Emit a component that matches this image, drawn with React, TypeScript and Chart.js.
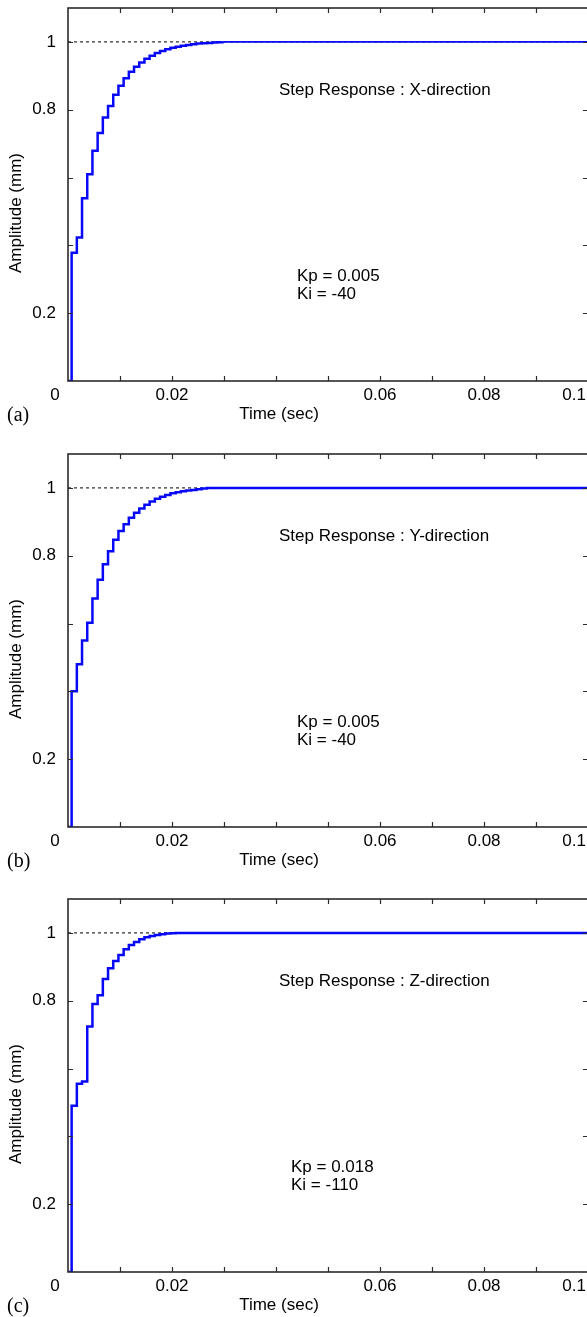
import React, { useEffect, useRef } from 'react';
import { Chart, registerables } from 'chart.js';

Chart.register(...registerables);

// Sample instants of the discrete step response (s)
const sampleTimes = [
  0, 0.0007, 0.0017, 0.0027, 0.0037, 0.0047, 0.0057, 0.0067, 0.0077, 0.0087, 0.0097,
  0.0107, 0.0117, 0.0127, 0.0137, 0.0147, 0.0157, 0.0167, 0.0177, 0.0187, 0.0197,
  0.0207, 0.0217, 0.0227, 0.0237, 0.0247, 0.0257, 0.0267, 0.0277, 0.0287, 0.0297,
];
const timeEnd = 0.1;

// Step response levels (mm)
const levelsX = [
  0, 0.378, 0.423, 0.539, 0.61, 0.679, 0.731, 0.777, 0.811, 0.844, 0.871, 0.893, 0.912,
  0.927, 0.939, 0.95, 0.959, 0.967, 0.973, 0.978, 0.983, 0.986, 0.989, 0.991, 0.993,
  0.995, 0.996, 0.997, 0.998, 0.999, 1.0,
];
const levelsY = [
  0, 0.4, 0.48, 0.55, 0.602, 0.674, 0.729, 0.775, 0.813, 0.847, 0.873, 0.893, 0.912,
  0.927, 0.939, 0.95, 0.96, 0.968, 0.974, 0.979, 0.984, 0.987, 0.99, 0.992, 0.994,
  0.996, 0.998, 1.0,
];
const levelsZ = [
  0, 0.49, 0.555, 0.562, 0.724, 0.79, 0.816, 0.864, 0.896, 0.917, 0.935, 0.952, 0.964,
  0.973, 0.981, 0.987, 0.991, 0.994, 0.996, 0.998, 0.999, 1.0,
];
const referenceLevel = 1;

// Axes
const xMin = 0;
const xMax = 0.1;
const yMin = 0;
const yMax = 1.1;
const xTickValues = [0.01, 0.02, 0.03, 0.04, 0.05, 0.06, 0.07, 0.08, 0.09];
const xLabelValues = [0.02, 0.06, 0.08];
const xLabelTexts = ['0.02', '0.06', '0.08'];
const xLastLabel = '0.1';
const xZeroLabel = '0';
const yTickValues = [0.2, 0.4, 0.6, 0.8, 1.0];
const yLabelValues = [0.2, 0.8, 1];
const yLabelTexts = ['0.2', '0.8', '1'];

const titles = ['Step Response : X-direction', 'Step Response : Y-direction', 'Step Response : Z-direction'];
const kpTexts = ['Kp = 0.005', 'Kp = 0.005', 'Kp = 0.018'];
const kiTexts = ['Ki = -40', 'Ki = -40', 'Ki = -110'];
const panelLetters = ['(a)', '(b)', '(c)'];

const SANS = '"Liberation Sans", Arial, Helvetica, sans-serif';
const SERIF = '"Liberation Serif", "Times New Roman", serif';

type PanelProps = {
  top: number;
  levels: number[];
  title: string;
  kp: string;
  ki: string;
  letter: string;
  kpX: number;
  tailWidth: number;
};

function Panel({ top, levels, title, kp, ki, letter, kpX, tailWidth }: PanelProps) {
  const ref = useRef<HTMLCanvasElement | null>(null);

  useEffect(() => {
    if (!ref.current) return;
    const pts = levels.map((v, i) => ({ x: sampleTimes[i], y: v }));
    pts.push({ x: timeEnd, y: levels[levels.length - 1] });

    const overlay = {
      id: 'overlay',
      afterDraw(chart: any) {
        const { ctx, chartArea: a, scales } = chart;
        const x = scales.x;
        const y = scales.y;
        ctx.save();
        // frame
        ctx.strokeStyle = '#2b2b2b';
        ctx.lineWidth = 1.6;
        ctx.strokeRect(a.left, a.top, a.right - a.left, a.bottom - a.top);
        // ticks (inward)
        ctx.lineWidth = 1.2;
        ctx.beginPath();
        xTickValues.forEach((v) => {
          const px = Math.round(x.getPixelForValue(v)) + 0.5;
          ctx.moveTo(px, a.bottom);
          ctx.lineTo(px, a.bottom - 5);
          ctx.moveTo(px, a.top);
          ctx.lineTo(px, a.top + 5);
        });
        yTickValues.forEach((v) => {
          const py = Math.round(y.getPixelForValue(v)) + 0.5;
          ctx.moveTo(a.left, py);
          ctx.lineTo(a.left + 5, py);
          ctx.moveTo(a.right, py);
          ctx.lineTo(a.right - 5, py);
        });
        ctx.stroke();

        // tick labels
        ctx.fillStyle = '#000';
        ctx.font = `17px ${SANS}`;
        ctx.textBaseline = 'middle';
        ctx.textAlign = 'center';
        const ly = a.bottom + 14;
        xLabelValues.forEach((v, i) => {
          ctx.fillText(xLabelTexts[i], x.getPixelForValue(v), ly);
        });
        ctx.fillText(xZeroLabel, x.getPixelForValue(xMin) - 13, ly);
        ctx.textAlign = 'right';
        ctx.fillText(xLastLabel, x.getPixelForValue(xMax) - 2, ly);
        yLabelValues.forEach((v, i) => {
          ctx.fillText(yLabelTexts[i], a.left - 12, y.getPixelForValue(v));
        });

        // axis titles
        ctx.font = `17px ${SANS}`;
        ctx.textAlign = 'center';
        ctx.fillText('Time (sec)', 279, a.bottom + 33);
        ctx.save();
        ctx.translate(16, a.top + 205);
        ctx.rotate(-Math.PI / 2);
        ctx.fillText('Amplitude (mm)', 0, 0);
        ctx.restore();

        // annotations
        ctx.textAlign = 'left';
        ctx.fillText(title, 279, a.top + 82);
        ctx.fillText(kp, kpX, a.top + 268);
        ctx.fillText(ki, kpX, a.top + 286);

        // panel letter
        ctx.font = `20px ${SERIF}`;
        ctx.fillText(letter, 7, a.bottom + 35);
        ctx.restore();
      },
    };

    const chart = new Chart(ref.current, {
      type: 'line',
      data: {
        datasets: [
          {
            data: [
              { x: xMin, y: referenceLevel },
              { x: xMax, y: referenceLevel },
            ],
            borderColor: '#000',
            borderWidth: 1,
            borderDash: [3, 3],
            pointRadius: 0,
            order: 2,
          },
          {
            data: pts,
            stepped: true,
            borderColor: '#0808f8',
            borderWidth: 2.5,
            pointRadius: 0,
            order: 1,
            segment: {
              borderWidth: (c: any) => (c.p0.parsed.x >= 0.029 ? tailWidth : 2.5),
            },
          },
        ],
      },
      options: {
        animation: false,
        responsive: false,
        maintainAspectRatio: false,
        events: [],
        layout: { padding: { left: 68, top: 8, right: 4, bottom: 65 } },
        scales: {
          x: { type: 'linear', min: xMin, max: xMax, display: false },
          y: { type: 'linear', min: yMin, max: yMax, display: false },
        },
        plugins: { legend: { display: false }, tooltip: { enabled: false } },
      },
      plugins: [overlay],
    } as any);

    return () => chart.destroy();
  }, []);

  return (
    <canvas
      ref={ref}
      width={592}
      height={446}
      style={{ position: 'absolute', left: 0, top, width: 592, height: 446 }}
    />
  );
}

export default function App() {
  return (
    <div
      style={{
        position: 'absolute',
        left: 0,
        top: 0,
        width: 587,
        height: 1317,
        overflow: 'hidden',
        background: '#fff',
      }}
    >
      <Panel top={0} levels={levelsX} title={titles[0]} kp={kpTexts[0]} ki={kiTexts[0]} letter={panelLetters[0]} kpX={297} tailWidth={1.6} />
      <Panel top={446} levels={levelsY} title={titles[1]} kp={kpTexts[1]} ki={kiTexts[1]} letter={panelLetters[1]} kpX={297} tailWidth={2.6} />
      <Panel top={891} levels={levelsZ} title={titles[2]} kp={kpTexts[2]} ki={kiTexts[2]} letter={panelLetters[2]} kpX={291} tailWidth={2.6} />
    </div>
  );
}
